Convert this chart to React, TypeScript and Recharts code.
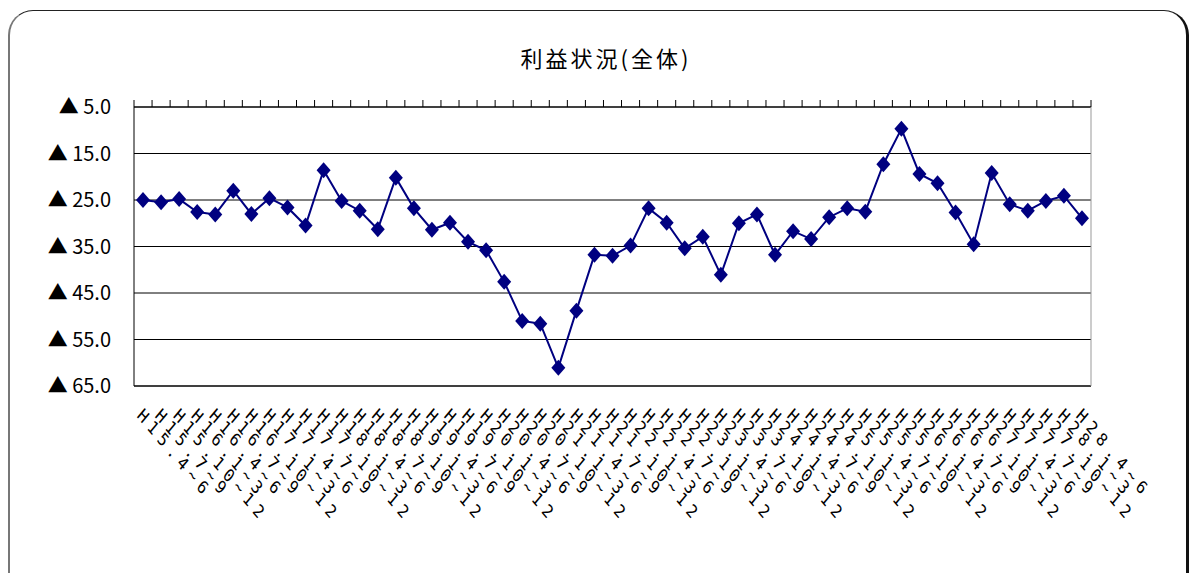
import React from 'react'
import { CartesianGrid, Line, LineChart, XAxis, YAxis } from 'recharts'

// quarterly periods (Heisei era)
const quarters = [
  'H15.4~6', 'H15.7~9', 'H15.10~12',
  'H16.1~3', 'H16.4~6', 'H16.7~9', 'H16.10~12',
  'H17.1~3', 'H17.4~6', 'H17.7~9', 'H17.10~12',
  'H18.1~3', 'H18.4~6', 'H18.7~9', 'H18.10~12',
  'H19.1~3', 'H19.4~6', 'H19.7~9', 'H19.10~12',
  'H20.1~3', 'H20.4~6', 'H20.7~9', 'H20.10~12',
  'H21.1~3', 'H21.4~6', 'H21.7~9', 'H21.10~12',
  'H22.1~3', 'H22.4~6', 'H22.7~9', 'H22.10~12',
  'H23.1~3', 'H23.4~6', 'H23.7~9', 'H23.10~12',
  'H24.1~3', 'H24.4~6', 'H24.7~9', 'H24.10~12',
  'H25.1~3', 'H25.4~6', 'H25.7~9', 'H25.10~12',
  'H26.1~3', 'H26.4~6', 'H26.7~9', 'H26.10~12',
  'H27.1~3', 'H27.4~6', 'H27.7~9', 'H27.10~12',
  'H28.1~3', 'H28.4~6',
]

const profit = [
  -25.0, -25.5, -24.8, -27.6, -28.1, -23.0, -28.0, -24.6, -26.6, -30.5,
  -18.6, -25.2, -27.3, -31.3, -20.2, -26.8, -31.4, -29.9, -34.0, -35.8,
  -42.6, -51.0, -51.6, -61.1, -48.8, -36.8, -37.0, -34.8, -26.8, -29.9,
  -35.4, -32.9, -41.1, -30.0, -28.1, -36.8, -31.7, -33.4, -28.7, -26.8,
  -27.5, -17.3, -9.7, -19.4, -21.4, -27.7, -34.5, -19.2, -25.9, -27.3,
  -25.2, -24.1, -28.9,
]

const yTicks = [-65, -55, -45, -35, -25, -15, -5]

const data = quarters.map((q, i) => ({ quarter: q, profit: profit[i] }))

const W = 1192
const H = 573
const PLOT_W = 957
const BAND = PLOT_W / quarters.length

function Diamond({ cx, cy }: any) {
  if (cx == null || cy == null) return null
  return (
    <polygon
      points={`${cx},${cy - 8} ${cx + 7},${cy} ${cx},${cy + 8} ${cx - 7},${cy}`}
      fill="#000080"
    />
  )
}

function ValueTick({ x, y, payload }: any) {
  return (
    <text
      x={x}
      y={y}
      dy={7}
      textAnchor="end"
      fontSize={20}
      fontFamily="'Noto Sans CJK JP', sans-serif"
      fill="#000"
    >
      {`▲ ${Math.abs(payload.value).toFixed(1)}`}
    </text>
  )
}

function QuarterTick({ x, y, payload }: any) {
  return (
    <g transform={`translate(${x - 3},${y}) scale(1,1.2) rotate(45)`}>
      <text
        x={0}
        y={0}
        dy="0.35em"
        textAnchor="start"
        fontSize={15}
        fontFamily="'DejaVu Sans Mono', monospace"
        letterSpacing={5}
        fill="#000"
      >
        {payload.value}
      </text>
    </g>
  )
}

// small marks between categories along the top axis
function TopTick({ x, y, index }: any) {
  const left = x - BAND / 2
  return (
    <g>
      <line x1={left} x2={left} y1={y} y2={y - 7} stroke="#000" />
      {index === quarters.length - 1 && (
        <line x1={x + BAND / 2} x2={x + BAND / 2} y1={y} y2={y - 7} stroke="#000" />
      )}
    </g>
  )
}

export default function App() {
  return (
    <div
      style={{
        position: 'absolute',
        left: 0,
        top: 0,
        width: W,
        height: H,
        overflow: 'hidden',
        background: '#fff',
      }}
    >
      {/* rounded frame */}
      <div
        style={{
          position: 'absolute',
          left: 8,
          top: 10,
          width: 1176,
          height: 620,
          borderTop: '1.5px solid #222',
          borderLeft: '2px solid #777',
          borderRight: '3px solid #111',
          borderRadius: 25,
        }}
      />
      <div
        style={{
          position: 'absolute',
          left: 456,
          top: 44,
          width: 300,
          textAlign: 'center',
          fontSize: 22,
          lineHeight: '26px',
          letterSpacing: 3,
          fontFamily: "'Noto Sans CJK JP', sans-serif",
          color: '#000',
        }}
      >
        利益状況(全体)
      </div>
      <div style={{ position: 'absolute', left: 0, top: 0 }}>
        <LineChart
          width={W}
          height={H}
          data={data}
          margin={{ top: 97, right: 100, left: 0, bottom: 0 }}
        >
          <CartesianGrid vertical={false} stroke="#000" strokeWidth={1} />
          <XAxis
            dataKey="quarter"
            scale="band"
            height={187}
            interval={0}
            tickSize={0}
            tickMargin={26}
            tickLine={false}
            axisLine={{ stroke: '#000' }}
            tick={<QuarterTick />}
          />
          <XAxis
            xAxisId="top"
            dataKey="quarter"
            orientation="top"
            scale="band"
            height={10}
            interval={0}
            tickSize={0}
            tickMargin={0}
            tickLine={false}
            axisLine={{ stroke: '#000' }}
            tick={<TopTick />}
          />
          <YAxis
            domain={[-65, -5]}
            ticks={yTicks}
            width={134}
            tickSize={0}
            tickMargin={23}
            tickLine={false}
            axisLine={{ stroke: '#000' }}
            tick={<ValueTick />}
          />
          <YAxis
            yAxisId="r"
            orientation="right"
            domain={[-65, -5]}
            width={1}
            tick={false}
            tickLine={false}
            axisLine={{ stroke: '#999' }}
          />
          <Line
            type="linear"
            dataKey="profit"
            stroke="#000080"
            strokeWidth={2}
            dot={<Diamond />}
            activeDot={false}
            isAnimationActive={false}
          />
        </LineChart>
      </div>
    </div>
  )
}
